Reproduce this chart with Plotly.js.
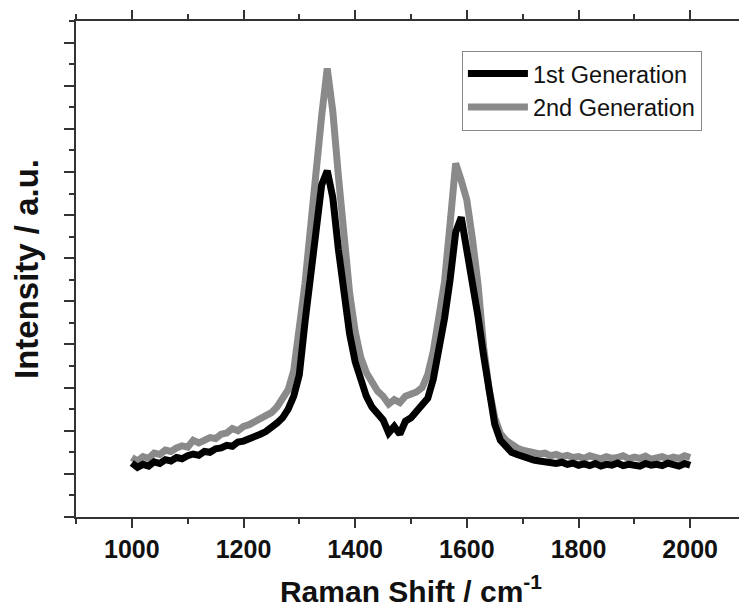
<!DOCTYPE html>
<html>
<head>
<meta charset="utf-8">
<script src="https://cdn.plot.ly/plotly-3.0.1.min.js"></script>
<style>
html,body{margin:0;padding:0;overflow:hidden;background:#fff;}
#chart{width:746px;height:608px;}
</style>
</head>
<body>
<div id="chart"></div>
<script>
// Raman shift (cm^-1)
const ramanShift = [1000,1010,1020,1030,1040,1050,1060,1070,1080,1090,
1100,1110,1120,1130,1140,1150,1160,1170,1180,1190,
1200,1210,1220,1230,1240,1250,1260,1270,1280,1290,
1300,1310,1320,1330,1340,1350,1360,1370,1380,1390,
1400,1410,1420,1430,1440,1450,1460,1470,1480,1490,
1500,1510,1520,1530,1540,1550,1560,1570,1580,1590,
1600,1610,1620,1630,1640,1650,1660,1670,1680,1690,
1700,1710,1720,1730,1740,1750,1760,1770,1780,1790,
1800,1810,1820,1830,1840,1850,1860,1870,1880,1890,
1900,1910,1920,1930,1940,1950,1960,1970,1980,1990,2000];

// 1st Generation intensity (a.u.)
const gen1 = [1.25,1.15,1.22,1.18,1.28,1.24,1.33,1.30,1.38,1.35,
1.42,1.46,1.43,1.52,1.50,1.58,1.60,1.66,1.64,1.74,
1.76,1.80,1.86,1.92,1.98,2.06,2.18,2.30,2.50,2.80,
3.30,4.50,5.60,6.80,7.70,8.03,7.40,6.20,5.10,4.25,
3.60,3.15,2.80,2.55,2.38,2.25,1.95,2.10,1.92,2.22,
2.30,2.45,2.60,2.75,3.20,3.85,4.60,5.50,6.60,6.95,
6.20,5.50,4.65,3.75,2.80,2.15,1.78,1.62,1.50,1.45,
1.40,1.36,1.32,1.30,1.28,1.26,1.24,1.27,1.22,1.25,
1.20,1.23,1.19,1.24,1.18,1.22,1.20,1.25,1.19,1.22,
1.21,1.18,1.24,1.20,1.22,1.19,1.25,1.21,1.18,1.24,1.20];

// 2nd Generation intensity (a.u.)
const gen2 = [1.38,1.30,1.40,1.36,1.48,1.45,1.55,1.52,1.60,1.65,
1.62,1.78,1.72,1.80,1.84,1.82,1.92,1.95,2.05,2.00,
2.10,2.14,2.20,2.26,2.32,2.42,2.55,2.72,2.95,3.40,
4.30,5.40,6.70,8.10,9.30,10.40,9.40,7.90,6.40,5.20,
4.30,3.70,3.35,3.10,2.92,2.80,2.62,2.72,2.65,2.80,
2.85,2.90,3.00,3.30,3.85,4.55,5.45,6.80,8.20,7.80,
7.35,6.45,5.40,3.95,2.95,2.30,1.94,1.78,1.68,1.60,
1.55,1.52,1.50,1.46,1.48,1.42,1.45,1.40,1.43,1.38,
1.40,1.36,1.42,1.37,1.35,1.40,1.36,1.38,1.42,1.35,
1.39,1.36,1.41,1.34,1.38,1.40,1.35,1.39,1.36,1.42,1.38];

const seriesNames = ['1st Generation','2nd Generation'];

const traces = [
  {x: ramanShift, y: gen2, name: seriesNames[1], type:'scatter', mode:'lines',
   line:{color:'#8a8a8a', width:7}, legendrank:2},
  {x: ramanShift, y: gen1, name: seriesNames[0], type:'scatter', mode:'lines',
   line:{color:'#000000', width:7}, legendrank:1}
];

const tickFont = {family:'"Liberation Sans",Arial,sans-serif', size:25, color:'#111', weight:'bold'};

const layout = {
  width:746, height:608,
  margin:{l:76, r:0, t:21, b:91, pad:0},
  paper_bgcolor:'#fff', plot_bgcolor:'#fff',
  showlegend:true,
  legend:{x:0.576, y:0.94, xanchor:'left', yanchor:'top', itemwidth:60,
    bgcolor:'#fff', bordercolor:'#888', borderwidth:1,
    font:{family:'"Liberation Sans",Arial,sans-serif', size:23.5, color:'#111'}},
  xaxis:{range:[900,2100], dtick:200, tick0:1000, ticks:'outside', ticklen:9, tickwidth:2,
    tickcolor:'#333', showline:true, linecolor:'#333', linewidth:2, mirror:'ticks',
    showgrid:false, zeroline:false, tickfont:tickFont,
    minor:{dtick:100, ticks:'outside', ticklen:5, tickwidth:2, tickcolor:'#333', showgrid:false},
    title:{text:'Raman Shift / cm<sup>-1</sup>', standoff:20,
      font:{family:'"Liberation Sans",Arial,sans-serif', size:30, color:'#111', weight:'bold'}}},
  yaxis:{range:[0,11.5], dtick:1, tick0:0, ticks:'outside', ticklen:10, tickwidth:2,
    tickcolor:'#333', showline:true, linecolor:'#333', linewidth:2, mirror:'ticks',
    showgrid:false, zeroline:false, showticklabels:false,
    minor:{dtick:0.5, ticks:'outside', ticklen:5, tickwidth:2, tickcolor:'#333', showgrid:false},
    title:{text:'Intensity / a.u.', standoff:15,
      font:{family:'"Liberation Sans",Arial,sans-serif', size:33, color:'#111', weight:'bold'}}}
};

Plotly.newPlot('chart', traces, layout, {displayModeBar:false, staticPlot:true});
</script>
</body>
</html>
